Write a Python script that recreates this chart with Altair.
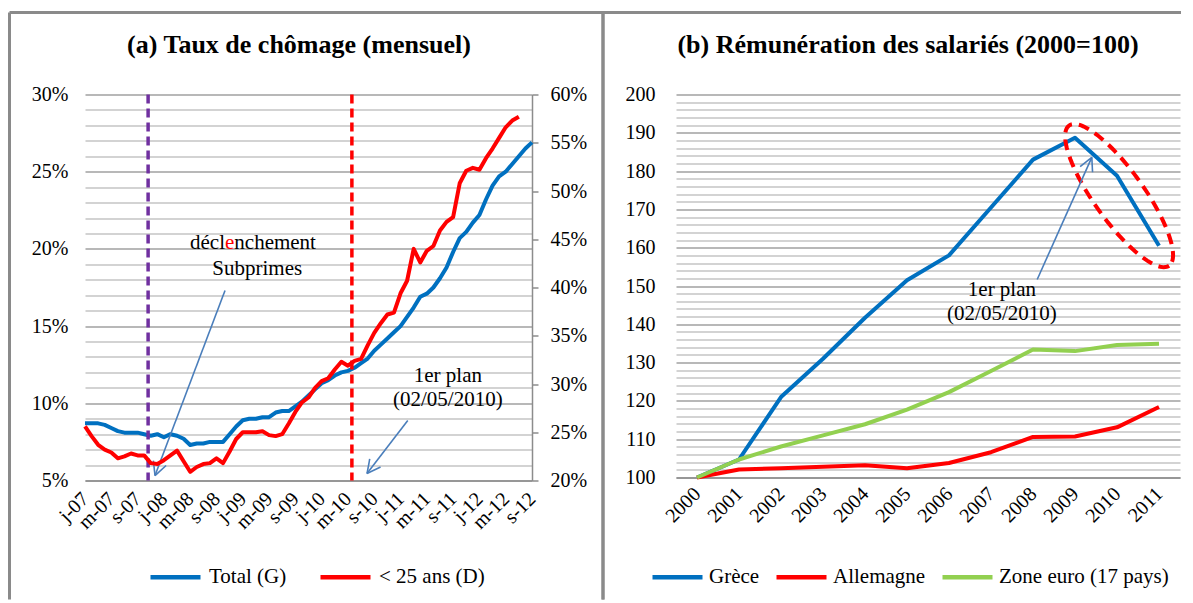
import math
import numpy as np
import pandas as pd
import altair as alt

FONT = "Liberation Serif"
BLUE, RED, GREEN, PURPLE = "#0070c0", "#ff0000", "#92d050", "#7030a0"
ARROW = "#4a7ebb"
AX = "#8c8c8c"
GRID_MAJ, GRID_MIN = "#a0a0a0", "#c4c4c4"
FRAME = "#8a8a8a"

# ---------------- data, panel (a): monthly unemployment, Jan 2007 .. Sep 2012
month_ticks = ['j-07', 'm-07', 's-07', 'j-08', 'm-08', 's-08', 'j-09', 'm-09', 's-09',
               'j-10', 'm-10', 's-10', 'j-11', 'm-11', 's-11', 'j-12', 'm-12', 's-12']
total_g = [8.7, 8.7, 8.7, 8.6, 8.4, 8.2, 8.1, 8.1, 8.1, 8.0,
           7.9, 8.0, 7.8, 8.0, 7.9, 7.7, 7.3, 7.4, 7.4, 7.5,
           7.5, 7.5, 8.0, 8.5, 8.9, 9.0, 9.0, 9.1, 9.1, 9.4,
           9.5, 9.5, 9.8, 10.1, 10.5, 10.9, 11.3, 11.5, 11.8, 12.0,
           12.1, 12.3, 12.6, 12.9, 13.4, 13.8, 14.2, 14.6, 15.0, 15.6,
           16.2, 16.9, 17.1, 17.5, 18.1, 18.8, 19.8, 20.7, 21.1, 21.7,
           22.2, 23.2, 24.1, 24.7, 25.0, 25.5, 26.0, 26.5, 26.9]
young_d = [25.6, 24.6, 23.7, 23.2, 22.9, 22.3, 22.5, 22.8, 22.6, 22.6,
           21.8, 21.7, 22.1, 22.6, 23.1, 22.0, 20.9, 21.4, 21.7, 21.8,
           22.3, 21.8, 23.0, 24.3, 25.0, 25.0, 25.0, 25.1, 24.7, 24.6,
           24.8, 25.9, 27.1, 28.1, 28.6, 29.6, 30.3, 30.6, 31.5, 32.3,
           31.9, 32.4, 32.6, 34.0, 35.3, 36.3, 37.2, 37.4, 39.4, 40.7,
           44.0, 42.6, 43.8, 44.3, 45.9, 46.8, 47.3, 50.8, 52.1, 52.4,
           52.2, 53.4, 54.4, 55.5, 56.6, 57.3, 57.7]
subprime_month = 9.6
plan_month = 40.6

# ---------------- data, panel (b): compensation of employees (2000=100)
years = list(range(2000, 2012))
grece = [100, 104.7, 121.0, 131.0, 141.7, 151.5, 158.0, 170.5, 183.0, 188.7, 178.8, 160.5]
allemagne = [100, 102.1, 102.4, 102.8, 103.2, 102.4, 103.8, 106.6, 110.6, 110.7, 113.1, 118.4]
zone_euro = [100, 104.7, 108.1, 111.0, 113.9, 117.7, 122.3, 127.8, 133.4, 133.0, 134.6, 134.9]

WL, HL = 447, 386
WR, HR = 504, 383
ONE = pd.DataFrame({"o": [0]})
LBL = 20
ANN = 21
LEG = 21
TTL = 26


def seg(x1, y1, x2, y2):
    return alt.Chart(ONE).mark_rule(color=FRAME, strokeWidth=3).encode(
        x=alt.value(x1), x2=alt.value(x2), y=alt.value(y1), y2=alt.value(y2))


def arrow_df(x0, y0, x1, y1, sx, sy, head=15, ang=27):
    dxp, dyp = (x0 - x1) * sx, (y0 - y1) * sy
    L = math.hypot(dxp, dyp)
    ux, uy = dxp / L, dyp / L
    rows = [(x0, y0, x1, y1)]
    for s in (1, -1):
        a = math.radians(ang * s)
        rx = ux * math.cos(a) - uy * math.sin(a)
        ry = ux * math.sin(a) + uy * math.cos(a)
        rows.append((x1, y1, x1 + rx * head / sx, y1 + ry * head / sy))
    return pd.DataFrame(rows, columns=["x", "y", "x2", "y2"])


# ================= panel (a)
LBL_EXPR = "[" + ",".join(f"'{t}'" for t in month_ticks) + "][round(datum.value / 4)]"


def xa(field="i"):
    return alt.X(f"{field}:Q", title=None,
                 scale=alt.Scale(domain=[0, 68], nice=False, zero=False),
                 axis=alt.Axis(values=list(range(0, 69, 4)), labelExpr=LBL_EXPR,
                               labelAngle=-45, labelAlign="right", labelBaseline="middle",
                               labelOverlap=False, labelFlush=False, labelPadding=15,
                               grid=False, ticks=False, domain=True, domainColor=AX,
                               domainWidth=1.5))


def ya(field="v"):
    return alt.Y(f"{field}:Q", title=None,
                 scale=alt.Scale(domain=[5, 30], nice=False, zero=False),
                 axis=alt.Axis(values=list(range(5, 31)),
                               labelExpr="datum.value % 5 === 0 ? datum.value + '%' : ''",
                               grid=True, gridWidth=1.3,
                               gridColor={"condition": {"test": "datum.value % 5 === 0", "value": GRID_MAJ},
                                          "value": GRID_MIN},
                               domain=False, ticks=False, labelPadding=17))


col_a = alt.Color("s:N", scale=alt.Scale(domain=["Total (G)", "< 25 ans (D)"], range=[BLUE, RED]),
                  legend=alt.Legend(orient="none", legendX=63, legendY=455, direction="horizontal",
                                    title=None, symbolType="stroke", symbolSize=2500,
                                    symbolStrokeWidth=4.5, labelFont=FONT, labelFontSize=LEG,
                                    labelColor="black", labelOffset=6, columnPadding=24,
                                    labelLimit=400))

df_total = pd.DataFrame({"i": range(len(total_g)), "v": total_g, "s": "Total (G)"})
df_young = pd.DataFrame({"i": range(len(young_d)), "v": young_d, "s": "< 25 ans (D)"})

blue_line = alt.Chart(df_total).mark_line(strokeWidth=4, strokeJoin="round").encode(
    x=xa(), y=ya(), color=col_a)
red_line = alt.Chart(df_young).mark_line(strokeWidth=4, strokeJoin="round").encode(
    x=xa(), color=col_a,
    y=alt.Y("v:Q", title=None, scale=alt.Scale(domain=[20, 60], nice=False, zero=False),
            axis=alt.Axis(orient="right", values=list(range(20, 61, 5)),
                          labelExpr="datum.value + '%'", grid=False, domain=True,
                          domainColor=AX, domainWidth=1.5, ticks=True, tickSize=6,
                          tickColor=AX, tickWidth=1.5, labelPadding=12, labelAlign="left")))

vr_sub = alt.Chart(pd.DataFrame({"i": [subprime_month]})).mark_rule(
    color=PURPLE, strokeWidth=3.5, strokeDash=[9, 5]).encode(x=xa())
vr_plan = alt.Chart(pd.DataFrame({"i": [plan_month]})).mark_rule(
    color=RED, strokeWidth=3.5, strokeDash=[9, 5]).encode(x=xa())

sxa, sya = WL / 68, HL / 25
arr_a = pd.concat([arrow_df(21.3, 17.31, 10.65, 5.32, sxa, sya),
                   arrow_df(49.1, 8.89, 42.9, 5.45, sxa, sya)])
arrows_a = alt.Chart(arr_a).mark_rule(color=ARROW, strokeWidth=1.6).encode(
    x=xa("x"), y=ya("y"), x2="x2:Q", y2="y2:Q")

decl = pd.DataFrame({"i": [21.3], "v": [20.35]})
t1 = alt.Chart(decl.assign(t="décl")).mark_text(font=FONT, fontSize=ANN, align="right",
                                                 baseline="middle", color="black").encode(x=xa(), y=ya(), text="t:N")
t2 = alt.Chart(decl.assign(t="e")).mark_text(font=FONT, fontSize=ANN, align="left",
                                              baseline="middle", color=RED).encode(x=xa(), y=ya(), text="t:N")
t3 = alt.Chart(decl.assign(t="nchement")).mark_text(font=FONT, fontSize=ANN, align="left", dx=9.3,
                                                     baseline="middle", color="black").encode(x=xa(), y=ya(), text="t:N")
txt_a = pd.DataFrame({"i": [26.2, 55.2, 55.2], "v": [18.73, 11.75, 10.22],
                      "t": ["Subprimes", "1er plan", "(02/05/2010)"]})
t4 = alt.Chart(txt_a).mark_text(font=FONT, fontSize=ANN, align="center", baseline="middle",
                                color="black").encode(x=xa(), y=ya(), text="t:N")

FT, FB = -82, 505
inner_a = alt.layer(
    seg(-75.5, FT, 518, FT), seg(-75.5, FT, -75.5, FB), seg(518, FT, 518, FB),
    blue_line, arrows_a, t1, t2, t3, t4, vr_sub, vr_plan)
left = alt.layer(inner_a, red_line).resolve_scale(y="independent").properties(
    width=WL, height=HL,
    title=alt.TitleParams(text="(a) Taux de chômage (mensuel)", font=FONT, fontSize=TTL,
                          fontWeight="bold", color="black", anchor="middle",
                          offset=-59.5, baseline="middle", dx=-9.5))

# ================= panel (b)


def xb(field="year"):
    return alt.X(f"{field}:Q", title=None,
                 scale=alt.Scale(domain=[1999.5, 2011.5], nice=False, zero=False),
                 axis=alt.Axis(values=years, format="d", labelAngle=-45, labelAlign="right",
                               labelBaseline="middle", labelOverlap=False, labelFlush=False,
                               labelPadding=13, grid=False, ticks=False, domain=True,
                               domainColor=AX, domainWidth=1.5))


def yb(field="v"):
    return alt.Y(f"{field}:Q", title=None,
                 scale=alt.Scale(domain=[100, 200], nice=False, zero=False),
                 axis=alt.Axis(values=list(range(100, 201, 2)),
                               labelExpr="datum.value % 10 === 0 ? datum.value : ''",
                               grid=True, gridWidth=1.3,
                               gridColor={"condition": {"test": "datum.value % 10 === 0", "value": GRID_MAJ},
                                          "value": GRID_MIN},
                               domain=False, ticks=False, labelPadding=21))


col_b = alt.Color("s:N", scale=alt.Scale(domain=["Grèce", "Allemagne", "Zone euro (17 pays)"],
                                         range=[BLUE, RED, GREEN]),
                  legend=alt.Legend(orient="none", legendX=-26, legendY=455, direction="horizontal",
                                    title=None, symbolType="stroke", symbolSize=2500,
                                    symbolStrokeWidth=4.5, labelFont=FONT, labelFontSize=LEG,
                                    labelColor="black", labelOffset=4, columnPadding=7,
                                    labelLimit=400))


def series(vals, name):
    df = pd.DataFrame({"year": years, "v": vals, "s": name})
    return alt.Chart(df).mark_line(strokeWidth=4, strokeJoin="round").encode(
        x=xb(), y=yb(), color=col_b)


t = np.linspace(0, 2 * np.pi, 121)
cx, cy = 2010.05, 173.6
A, B = (1.19, -18.3), (-0.485, -3.79)
ell = pd.DataFrame({"k": range(len(t)),
                    "year": cx + A[0] * np.cos(t) + B[0] * np.sin(t),
                    "v": cy + A[1] * np.cos(t) + B[1] * np.sin(t)})
ellipse = alt.Chart(ell).mark_line(color=RED, strokeWidth=4, strokeDash=[11, 7]).encode(
    x=xb(), y=yb(), order="k:Q")

sxb, syb = WR / 12, HR / 100
arrows_b = alt.Chart(arrow_df(2008.1, 151.7, 2009.4, 183.6, sxb, syb)).mark_rule(
    color=ARROW, strokeWidth=1.6).encode(x=xb("x"), y=yb("y"), x2="x2:Q", y2="y2:Q")
txt_b = pd.DataFrame({"year": [2007.26, 2007.26], "v": [149.0, 142.7],
                      "t": ["1er plan", "(02/05/2010)"]})
tb = alt.Chart(txt_b).mark_text(font=FONT, fontSize=ANN, align="center", baseline="middle",
                                color="black").encode(x=xb(), y=yb(), text="t:N")

right = alt.layer(
    seg(-73, FT, 505, FT), seg(-73, FT, -73, FB),
    series(grece, "Grèce"), series(allemagne, "Allemagne"), series(zone_euro, "Zone euro (17 pays)"),
    ellipse, arrows_b, tb).properties(
    width=WR, height=HR,
    title=alt.TitleParams(text="(b) Rémunération  des salariés (2000=100)", font=FONT, fontSize=TTL,
                          fontWeight="bold", color="black", anchor="middle",
                          offset=-59.5, baseline="middle", dx=-20))

chart = alt.hconcat(left, right, spacing=591 - WL, bounds="flush").resolve_scale(
    color="independent").resolve_legend(color="independent").properties(
    padding={"left": 0, "top": 2.5, "right": 0, "bottom": 0}, background="white"
).configure_view(stroke=None).configure_axis(
    labelFont=FONT, labelFontSize=LBL, labelColor="black")

chart.save("out.html", embed_options={"renderer": "svg", "actions": False})
